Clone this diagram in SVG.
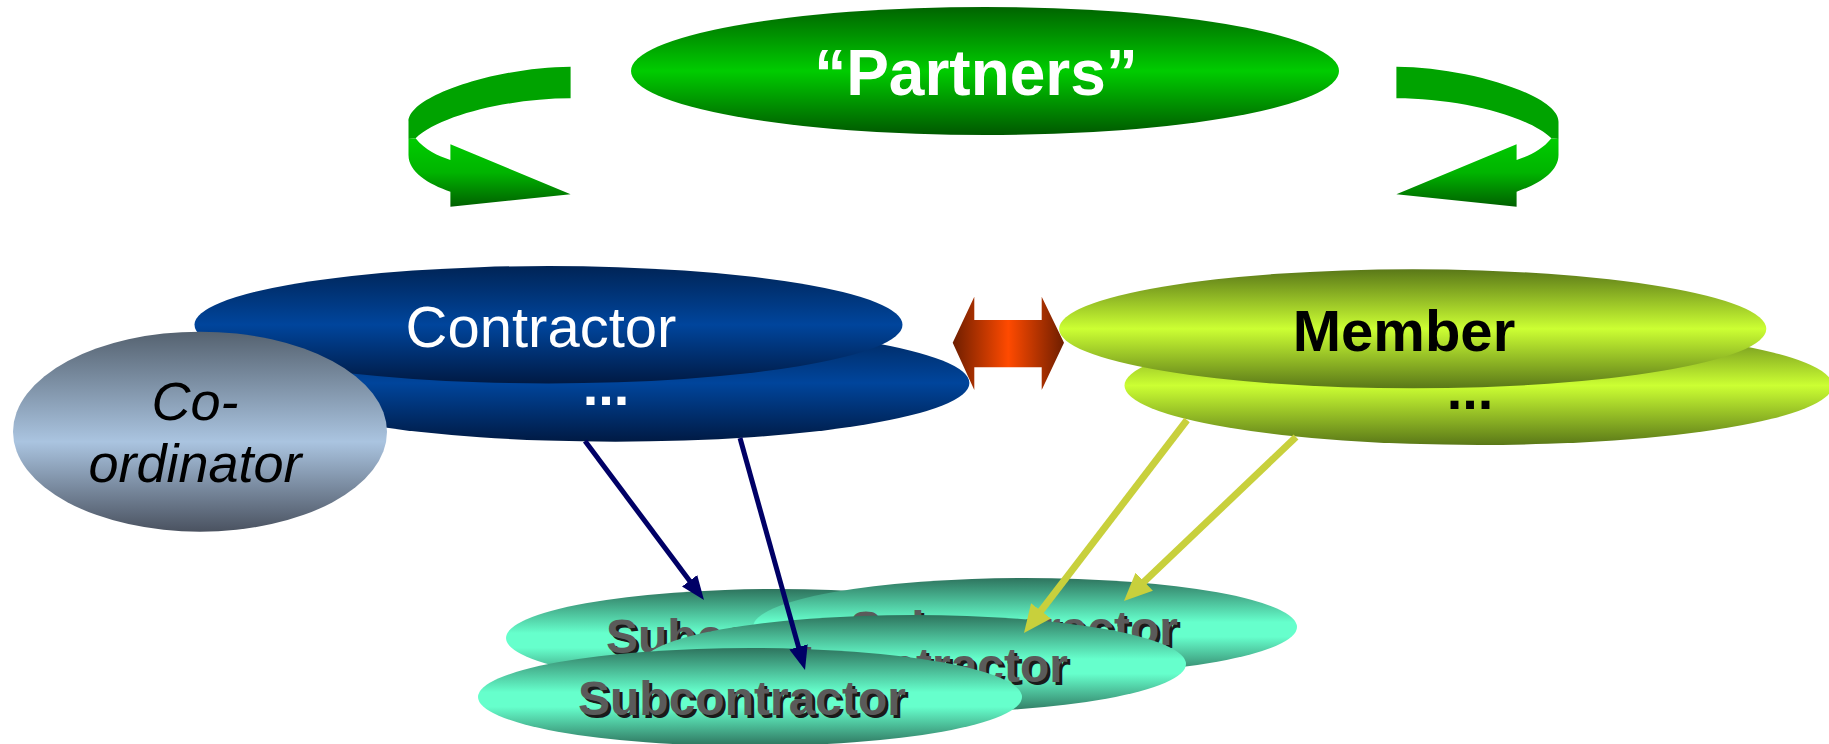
<svg xmlns="http://www.w3.org/2000/svg" width="1829" height="744" viewBox="0 0 1829 744">
<defs>
<linearGradient id="gPartners" x1="0" y1="0" x2="0" y2="1"><stop offset="0" stop-color="#006400"/><stop offset="0.5" stop-color="#00cc00"/><stop offset="1" stop-color="#005800"/></linearGradient>
<linearGradient id="gArrowFront" x1="0" y1="0" x2="0" y2="1"><stop offset="0" stop-color="#00cc00"/><stop offset="0.5" stop-color="#00b400"/><stop offset="1" stop-color="#006000"/></linearGradient>
<linearGradient id="gContractor" x1="0" y1="0" x2="0" y2="1"><stop offset="0" stop-color="#002456"/><stop offset="0.5" stop-color="#00459c"/><stop offset="1" stop-color="#001a44"/></linearGradient>
<linearGradient id="gCoord" x1="0" y1="0" x2="0" y2="1"><stop offset="0" stop-color="#556270"/><stop offset="0.55" stop-color="#aac4e0"/><stop offset="1" stop-color="#4a5260"/></linearGradient>
<linearGradient id="gMember" x1="0" y1="0" x2="0" y2="1"><stop offset="0" stop-color="#5a7818"/><stop offset="0.5" stop-color="#ccff33"/><stop offset="1" stop-color="#5a7818"/></linearGradient>
<linearGradient id="gSub" x1="0" y1="0" x2="0" y2="1"><stop offset="0" stop-color="#2e745e"/><stop offset="0.45" stop-color="#66ffcc"/><stop offset="0.6" stop-color="#66ffcc"/><stop offset="1" stop-color="#2e745e"/></linearGradient>
<linearGradient id="gDouble" x1="0" y1="0" x2="1" y2="0"><stop offset="0" stop-color="#6e1e00"/><stop offset="0.5" stop-color="#ff4a00"/><stop offset="1" stop-color="#6e1e00"/></linearGradient>
<marker id="mNavy" viewBox="0 0 24 19" markerWidth="24" markerHeight="19" refX="14" refY="9.5" orient="auto" markerUnits="userSpaceOnUse"><path d="M0,0 L24,9.5 L0,19 Z" fill="#000066"/></marker>
<marker id="mYellow" viewBox="0 0 28 25" markerWidth="28" markerHeight="25" refX="14" refY="12.5" orient="auto" markerUnits="userSpaceOnUse"><path d="M0,0 L28,12.5 L0,25 Z" fill="#c8d03c"/></marker>
</defs>
<style>
text{font-family:"Liberation Sans",Arial,sans-serif;text-anchor:middle}
.contractor{fill:url(#gContractor)}
.member{fill:url(#gMember)}
.sub{fill:url(#gSub)}
.subtxt{font-size:48px;font-weight:bold;fill:#5a5a5a}
.subshadow{font-size:48px;font-weight:bold;fill:#1a1a1a}
.navy{stroke:#000066;stroke-width:5;fill:none;marker-end:url(#mNavy)}
.yellow{stroke:#c8d03c;stroke-width:7;fill:none;marker-end:url(#mYellow)}
.band{fill:#00a300}
.front{fill:url(#gArrowFront)}
</style>
<rect width="1829" height="744" fill="#ffffff"/>

<g id="node-partners">
<ellipse cx="985" cy="71" rx="354" ry="64" fill="url(#gPartners)"/>
<text x="976" y="95" font-size="64" font-weight="bold" fill="#ffffff">“Partners”</text>
</g>

<g id="node-contractor-more">
<ellipse class="contractor" cx="615.4" cy="383" rx="354" ry="58.7"/>
<text x="606" y="405" font-size="56" font-weight="bold" fill="#ffffff">...</text>
</g>
<g id="node-contractor">
<ellipse class="contractor" cx="548.5" cy="324.7" rx="354" ry="58.7"/>
<text x="541" y="347" font-size="58" fill="#ffffff">Contractor</text>
</g>
<g id="node-coordinator">
<ellipse cx="200" cy="431.7" rx="187" ry="100" fill="url(#gCoord)"/>
<text x="195" y="420" font-size="54" font-style="italic" fill="#000000">Co-</text>
<text x="195" y="482" font-size="54" font-style="italic" fill="#000000">ordinator</text>
</g>

<g id="node-member-more">
<ellipse class="member" cx="1478.5" cy="385.5" rx="354" ry="59.5"/>
<text x="1470" y="409" font-size="56" font-weight="bold" fill="#000000">...</text>
</g>
<g id="node-member">
<ellipse class="member" cx="1412.7" cy="328.8" rx="353.6" ry="59.5"/>
<text x="1404" y="351" font-size="58" font-weight="bold" fill="#000000">Member</text>
</g>

<g id="node-sub-1">
<ellipse class="sub" cx="778" cy="638" rx="272" ry="49"/>
<text class="subshadow" x="773" y="656">Subcontractor</text>
<text class="subtxt" x="770" y="653">Subcontractor</text>
</g>
<g id="node-sub-2">
<ellipse class="sub" cx="1025" cy="627" rx="272" ry="49"/>
<text class="subshadow" x="1017" y="648">Subcontractor</text>
<text class="subtxt" x="1014" y="645">Subcontractor</text>
</g>
<g id="node-sub-3">
<ellipse class="sub" cx="914" cy="664" rx="272" ry="49"/>
<text class="subshadow" x="907" y="685">Subcontractor</text>
<text class="subtxt" x="904" y="682">Subcontractor</text>
</g>
<g id="node-sub-4">
<ellipse class="sub" cx="750" cy="697" rx="272" ry="49"/>
<text class="subshadow" x="745" y="718">Subcontractor</text>
<text class="subtxt" x="742" y="715">Subcontractor</text>
</g>

<g id="connectors">
<g id="cycle-left">
<path class="band" d="M570.6,66.7 C500,67 408.5,95 408.5,121.7 L408.5,139 L415.6,138.3 C440,115 510,98.3 570.6,98.3 Z"/>
<path class="front" d="M408.5,139 L415.6,138.3 C425,150 438,156 450.4,160 L450.4,144.3 L570.6,194.3 L450.4,206.7 L450.4,191.7 C428,184 408.5,172 408.5,155 Z"/>
</g>
<g id="cycle-right" transform="translate(1967,0) scale(-1,1)">
<path class="band" d="M570.6,66.7 C500,67 408.5,95 408.5,121.7 L408.5,139 L415.6,138.3 C440,115 510,98.3 570.6,98.3 Z"/>
<path class="front" d="M408.5,139 L415.6,138.3 C425,150 438,156 450.4,160 L450.4,144.3 L570.6,194.3 L450.4,206.7 L450.4,191.7 C428,184 408.5,172 408.5,155 Z"/>
</g>
<polygon id="contractor-member" points="952.7,342.7 974.3,296.7 974.3,320 1041.7,320 1041.7,296.7 1064,342.7 1041.7,390 1041.7,367.3 974.3,367.3 974.3,390" fill="url(#gDouble)"/>
<line class="navy" x1="585" y1="441" x2="698" y2="592"/>
<line class="navy" x1="740" y1="438" x2="802.3" y2="660.4"/>
<line class="yellow" x1="1187" y1="420" x2="1032.5" y2="621.9"/>
<line class="yellow" x1="1296" y1="437" x2="1134.1" y2="591.3"/>
</g>
</svg>
